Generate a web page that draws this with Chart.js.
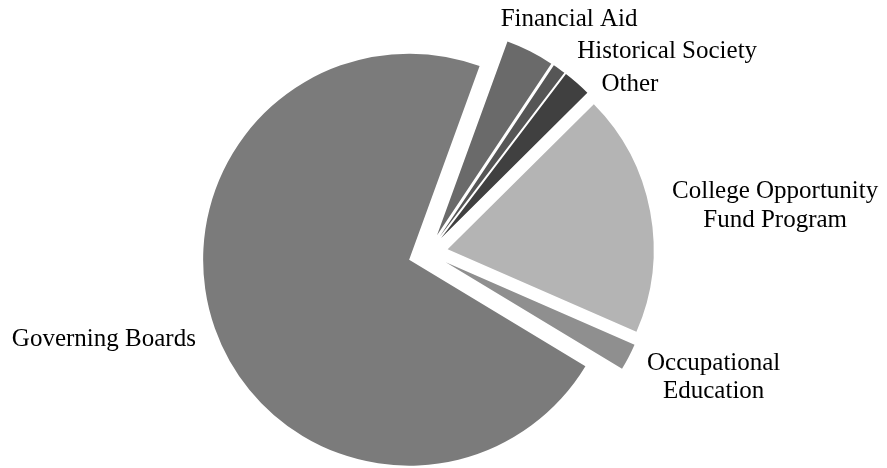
<!DOCTYPE html>
<html>
<head>
<meta charset="utf-8">
<script src="https://cdn.jsdelivr.net/npm/chart.js@4.4.1/dist/chart.umd.min.js"></script>
<style>
  body { margin: 0; background: #fff; }
  #wrap { width: 887px; height: 468px; }
</style>
</head>
<body>
<div id="wrap"><canvas id="chart-funding" width="887" height="468"></canvas></div>
<script>
// share of the budget, in percent, clockwise from the top right
var categories = [
    'Financial Aid',
    'Historical Society',
    'Other',
    'College Opportunity Fund Program',
    'Occupational Education',
    'Governing Boards'
];
var shares = [3.8, 1.0, 2.2, 19.0, 2.1, 71.9];

// how the names wrap when drawn
var labelLines = [
    ['Financial Aid'],
    ['Historical Society'],
    ['Other'],
    ['College Opportunity', 'Fund Program'],
    ['Occupational', 'Education'],
    ['Governing Boards']
];

var sliceColors = ['#6a6a6a', '#565656', '#404040', '#b4b4b4', '#8f8f8f', '#7b7b7b'];

// pushes every slice out from the middle along its own centre line
var explodePlugin = {
    id: 'explode',
    afterDatasetsUpdate: function (chart, args, opts) {
        chart.getDatasetMeta(0).data.forEach(function (arc) {
            var mid = (arc.startAngle + arc.endAngle) / 2;
            arc.x += Math.cos(mid) * opts.distance;
            arc.y += Math.sin(mid) * opts.distance;
        });
    }
};

// names next to the outer edge of each slice
var sliceLabels = {
    id: 'sliceLabels',
    afterDatasetsDraw: function (chart, args, opts) {
        var ctx = chart.ctx;
        ctx.save();
        ctx.font = opts.font;
        ctx.fillStyle = '#000';
        ctx.textAlign = 'center';
        ctx.textBaseline = 'middle';
        chart.getDatasetMeta(0).data.forEach(function (arc, i) {
            var mid = (arc.startAngle + arc.endAngle) / 2;
            var x = arc.x + Math.cos(mid) * arc.outerRadius + opts.nudge[i][0];
            var y = arc.y + Math.sin(mid) * arc.outerRadius + opts.nudge[i][1];
            var lines = labelLines[i];
            var top = y - (lines.length - 1) * opts.lineHeight / 2;
            lines.forEach(function (line, k) {
                ctx.fillText(line, x, top + k * opts.lineHeight);
            });
        });
        ctx.restore();
    }
};

var chartFunding = new Chart(document.getElementById('chart-funding'), {
    type: 'pie',
    data: {
        labels: categories,
        datasets: [{
            data: shares,
            backgroundColor: sliceColors,
            borderWidth: 0
        }]
    },
    options: {
        responsive: false,
        animation: false,
        events: [],
        rotation: 20,
        radius: 206,
        layout: {
            padding: { left: 0, right: 31, top: 38, bottom: 0 }
        },
        plugins: {
            legend: { display: false },
            tooltip: { enabled: false },
            explode: { distance: 20 },
            sliceLabels: {
                font: "25px 'Liberation Serif', 'Times New Roman', serif",
                lineHeight: 28.5,
                nudge: [[39, -32], [108, -17.5], [53, 1], [125, -5.6], [85, 20.6], [-111, 11.4]]
            }
        }
    },
    plugins: [explodePlugin, sliceLabels]
});
</script>
</body>
</html>
